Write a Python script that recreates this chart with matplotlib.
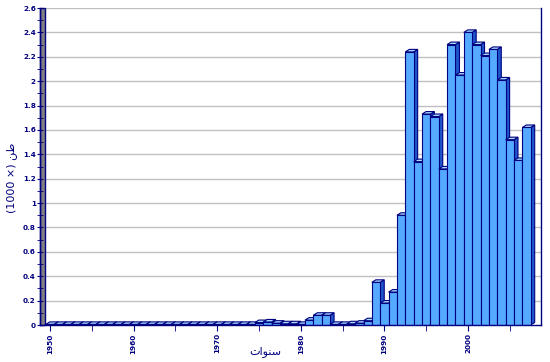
import matplotlib
matplotlib.use("Agg")
import matplotlib.pyplot as plt
from matplotlib.patches import Polygon, Rectangle
import numpy as np

years = list(range(1950, 2008))
values = (
    [0.005] * 25 +                       # 1950-1974
    [0.02, 0.025, 0.015, 0.01, 0.01,     # 1975-1979
     0.005, 0.04, 0.08, 0.08, 0.005,     # 1980-1984
     0.005, 0.01, 0.015, 0.035, 0.35,    # 1985-1989
     0.18, 0.27, 0.90, 2.24, 1.34,       # 1990-1994
     1.73, 1.71, 1.28, 2.30, 2.05,       # 1995-1999
     2.40, 2.30, 2.21, 2.26, 2.01,       # 2000-2004
     1.52, 1.35, 1.62]                   # 2005-2007
)
y_ticks = [0, 0.2, 0.4, 0.6, 0.8, 1, 1.2, 1.4, 1.6, 1.8, 2, 2.2, 2.4, 2.6]
y_ticklabels = ["0", "0.2", "0.4", "0.6", "0.8", "1", "1.2", "1.4", "1.6", "1.8", "2", "2.2", "2.4", "2.6"]
x_ticks = [1950, 1960, 1970, 1980, 1990, 2000]
x_label = "\uFE95\uFE8D\uFEEE\uFEE8\uFEB3"          # سنوات (visual order, shaped)
y_label = "(1000 \u00d7) \uFEE6\uFEC3"              # طن (1000×)

NAVY = "#000080"
FRONT = "#55AAFF"
TOP = "#A8DCFF"
SIDE = "#1F55C8"

W, H = 550, 362
fig = plt.figure(figsize=(W / 100, H / 100), dpi=100)
fig.patch.set_facecolor("white")
ax_l, ax_r, ax_t, ax_b = 40, 541, 8, 325
ax = fig.add_axes([ax_l / W, (H - ax_b) / H, (ax_r - ax_l) / W, (ax_b - ax_t) / H])

px_per_year = 8.36
xmin = 1950 - (50 - ax_l) / px_per_year
xmax = 1950 + (ax_r - 50) / px_per_year
ax.set_xlim(xmin, xmax)
ax.set_ylim(0, 2.6)

# depth of the pseudo-3D effect, in pixels -> data
dpx, dpy = 4.0, 2.5
ppu_y = (ax_b - ax_t) / 2.6
dx = dpx / px_per_year
dy = dpy / ppu_y

# back wall (gray) at left
wall_w = 5 / (ax_r - ax_l)
ax.add_patch(Rectangle((0, 0), wall_w, 2.6, transform=ax.get_yaxis_transform(),
                       facecolor="#808080", edgecolor=NAVY, lw=1, zorder=1, clip_on=False))
# grid lines
for v in y_ticks[1:]:
    ax.axhline(v, xmin=wall_w, xmax=1, color="#C0C0C0", lw=1, zorder=0.5)

# bars
for i, (yr, v) in enumerate(zip(years, values)):
    x0, x1 = yr - 0.5, yr + 0.5
    z = 2 + i * 0.01
    ax.add_patch(Polygon([(x1, 0), (x1 + dx, dy), (x1 + dx, v + dy), (x1, v)],
                         closed=True, facecolor=SIDE, edgecolor=NAVY, lw=0.8, zorder=z))
    ax.add_patch(Polygon([(x0, v), (x1, v), (x1 + dx, v + dy), (x0 + dx, v + dy)],
                         closed=True, facecolor=TOP, edgecolor=NAVY, lw=0.8, zorder=z))
    ax.bar(yr, v, width=1.0, color=FRONT, edgecolor=NAVY, lw=0.8, zorder=z)

for s in ["top"]:
    ax.spines[s].set_visible(False)
for s in ["left", "bottom", "right"]:
    ax.spines[s].set_color(NAVY)
    ax.spines[s].set_linewidth(1)
    ax.spines[s].set_zorder(5)

ax.set_yticks(y_ticks)
ax.set_yticklabels(y_ticklabels)
ax.set_yticks(np.arange(0.1, 2.6, 0.2), minor=True)
ax.set_xticks(x_ticks)
ax.set_xticklabels([str(t) for t in x_ticks], rotation=90)
ax.set_xticks([1955, 1965, 1975, 1985, 1995, 2005], minor=True)
ax.tick_params(axis="y", which="both", direction="inout", length=4, color=NAVY,
               labelcolor=NAVY, labelsize=5.2, pad=1)
ax.tick_params(axis="x", which="both", direction="out", length=4, color=NAVY,
               labelcolor=NAVY, labelsize=5.2, pad=2)
for lbl in ax.get_xticklabels() + ax.get_yticklabels():
    lbl.set_fontweight("bold")

fig.text(12 / W, 1 - 178 / H, y_label, rotation=90, color=NAVY, fontsize=8,
         ha="center", va="center", family="DejaVu Sans")
fig.text(265 / W, 1 - 352 / H, x_label, color=NAVY, fontsize=8,
         ha="center", va="center", family="DejaVu Sans")

fig.savefig("out.png", dpi=100)
